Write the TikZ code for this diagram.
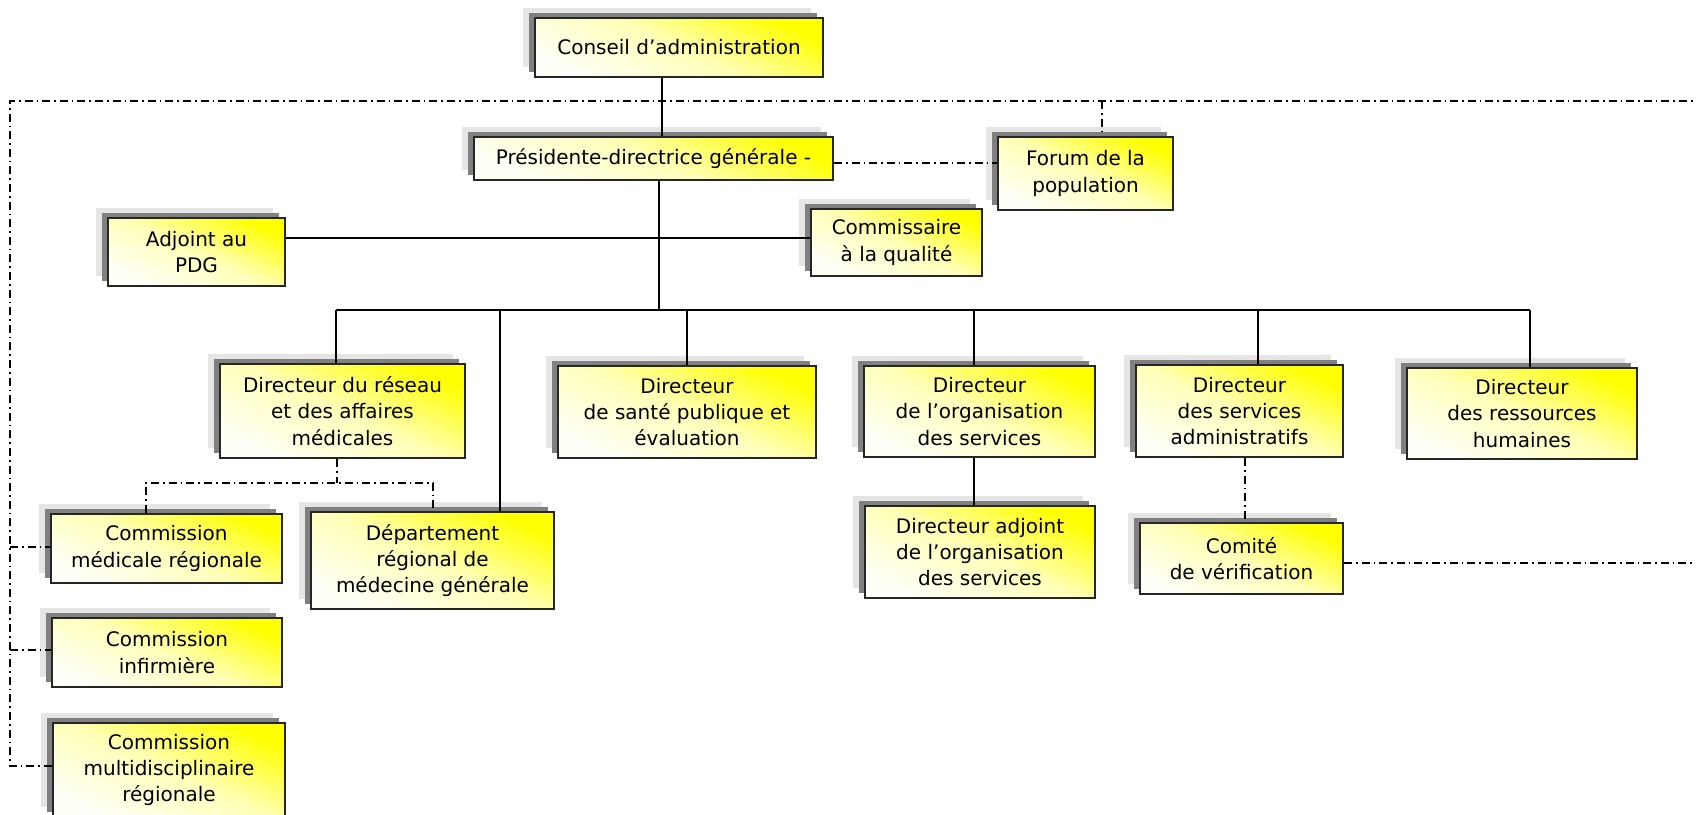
\documentclass[tikz,border=0pt]{standalone}
\usepackage{fontspec}
\setmainfont{DejaVu Sans}
\usetikzlibrary{shadows}

\begin{document}
\begin{tikzpicture}[x=0.5pt, y=-0.5pt,
        box/.style 2 args={draw=black!85, line width=1pt, align=center, inner sep=0pt,
            minimum width=#1*0.5pt, minimum height=#2*0.5pt,
            font=\fontsize{10}{13.2}\selectfont,
            general shadow={fill=black!10, shadow xshift=-6pt, shadow yshift=5pt},
            general shadow={fill=black!50, shadow xshift=-3pt, shadow yshift=2.5pt},
            top color=yellow, bottom color=yellow!3, middle color=yellow!28, shading angle=-25},
        link/.style={line width=1pt},
        dotlink/.style={line width=0.8pt, dash pattern=on 4pt off 2pt on 0.8pt off 2pt}]
    \useasboundingbox (0,0) rectangle (1696,814);

    \node[box={288}{59}] (conseil) at (679,47.5) {Conseil d’administration};
    \node[box={359}{43}] (pdg) at (653.5,158.5) {Présidente-directrice générale -};
    \node[box={175}{73}] (forum) at (1085.5,173.5) {Forum de la\\population};
    \node[box={171}{67}] (commissaire) at (896.5,242.5) {Commissaire\\à la qualité};
    \node[box={177}{68}] (adjoint) at (196.5,252) {Adjoint au\\PDG};

    \node[box={245}{94}] (dirreseau) at (342.5,411) {Directeur du réseau\\et des affaires\\médicales};
    \node[box={258}{92}] (dirsante) at (687,412) {Directeur\\de santé publique et\\évaluation};
    \node[box={231}{91}] (dirorg) at (979.5,411.5) {Directeur\\de l’organisation\\des services};
    \node[box={207}{92}] (dirsa) at (1239.5,411) {Directeur\\des services\\administratifs};
    \node[box={230}{91}] (dirrh) at (1522,413.5) {Directeur\\des ressources\\humaines};

    \node[box={243}{97}] (departement) at (432.5,560.5) {Département\\régional de\\médecine générale};
    \node[box={231}{69}] (commmed) at (166.5,548.5) {Commission\\médicale régionale};
    \node[box={230}{69}] (comminf) at (167,652.5) {Commission\\infirmière};
    \node[box={232}{94}] (commmulti) at (169,770) {Commission\\multidisciplinaire\\régionale};
    \node[box={230}{92}] (diradj) at (980,552) {Directeur adjoint\\de l’organisation\\des services};
    \node[box={203}{71}] (comite) at (1241.5,558.5) {Comité\\de vérification};

    \coordinate (topL) at (10,101);
    \coordinate (topR) at (1696,101);
    \coordinate (comiteR) at (1696,563);
    \coordinate (barL) at (336,310);
    \coordinate (barR) at (1530,310);

    \draw[link] (conseil.south -| 662,0) -- (pdg.north -| 662,0);
    \draw[link] (pdg.south -| 659,0) -- (659,310);
    \draw[link] (adjoint.east |- 0,238) -- (commissaire.west |- 0,238);
    \draw[link] (barL) -- (barR);
    \foreach \n/\x in {dirreseau/336, departement/500, dirsante/687, dirorg/974, dirsa/1258, dirrh/1530}
        \draw[link] (\x,310) -- (\n.north -| \x,0);
    \draw[link] (dirorg.south -| 974,0) -- (diradj.north -| 974,0);

    \draw[dotlink] (dirreseau.south -| 337,0) -- (337,483);
    \draw[dotlink] (commmed.north -| 146,0) |- (433,483) -- (departement.north -| 433,0);
    \draw[dotlink] (dirsa.south -| 1245,0) -- (comite.north -| 1245,0);
    \draw[dotlink] (comite.east |- 0,563) -- (comiteR);
    \draw[dotlink] (commmulti.west |- 0,766) -| (topL) -- (topR);
    \draw[dotlink] (10,547) -- (commmed.west |- 0,547);
    \draw[dotlink] (10,650) -- (comminf.west |- 0,650);
    \draw[dotlink] (1102,101) -- (forum.north -| 1102,0);
    \draw[dotlink] (pdg.east |- 0,163) -- (forum.west |- 0,163);
\end{tikzpicture}
\end{document}
